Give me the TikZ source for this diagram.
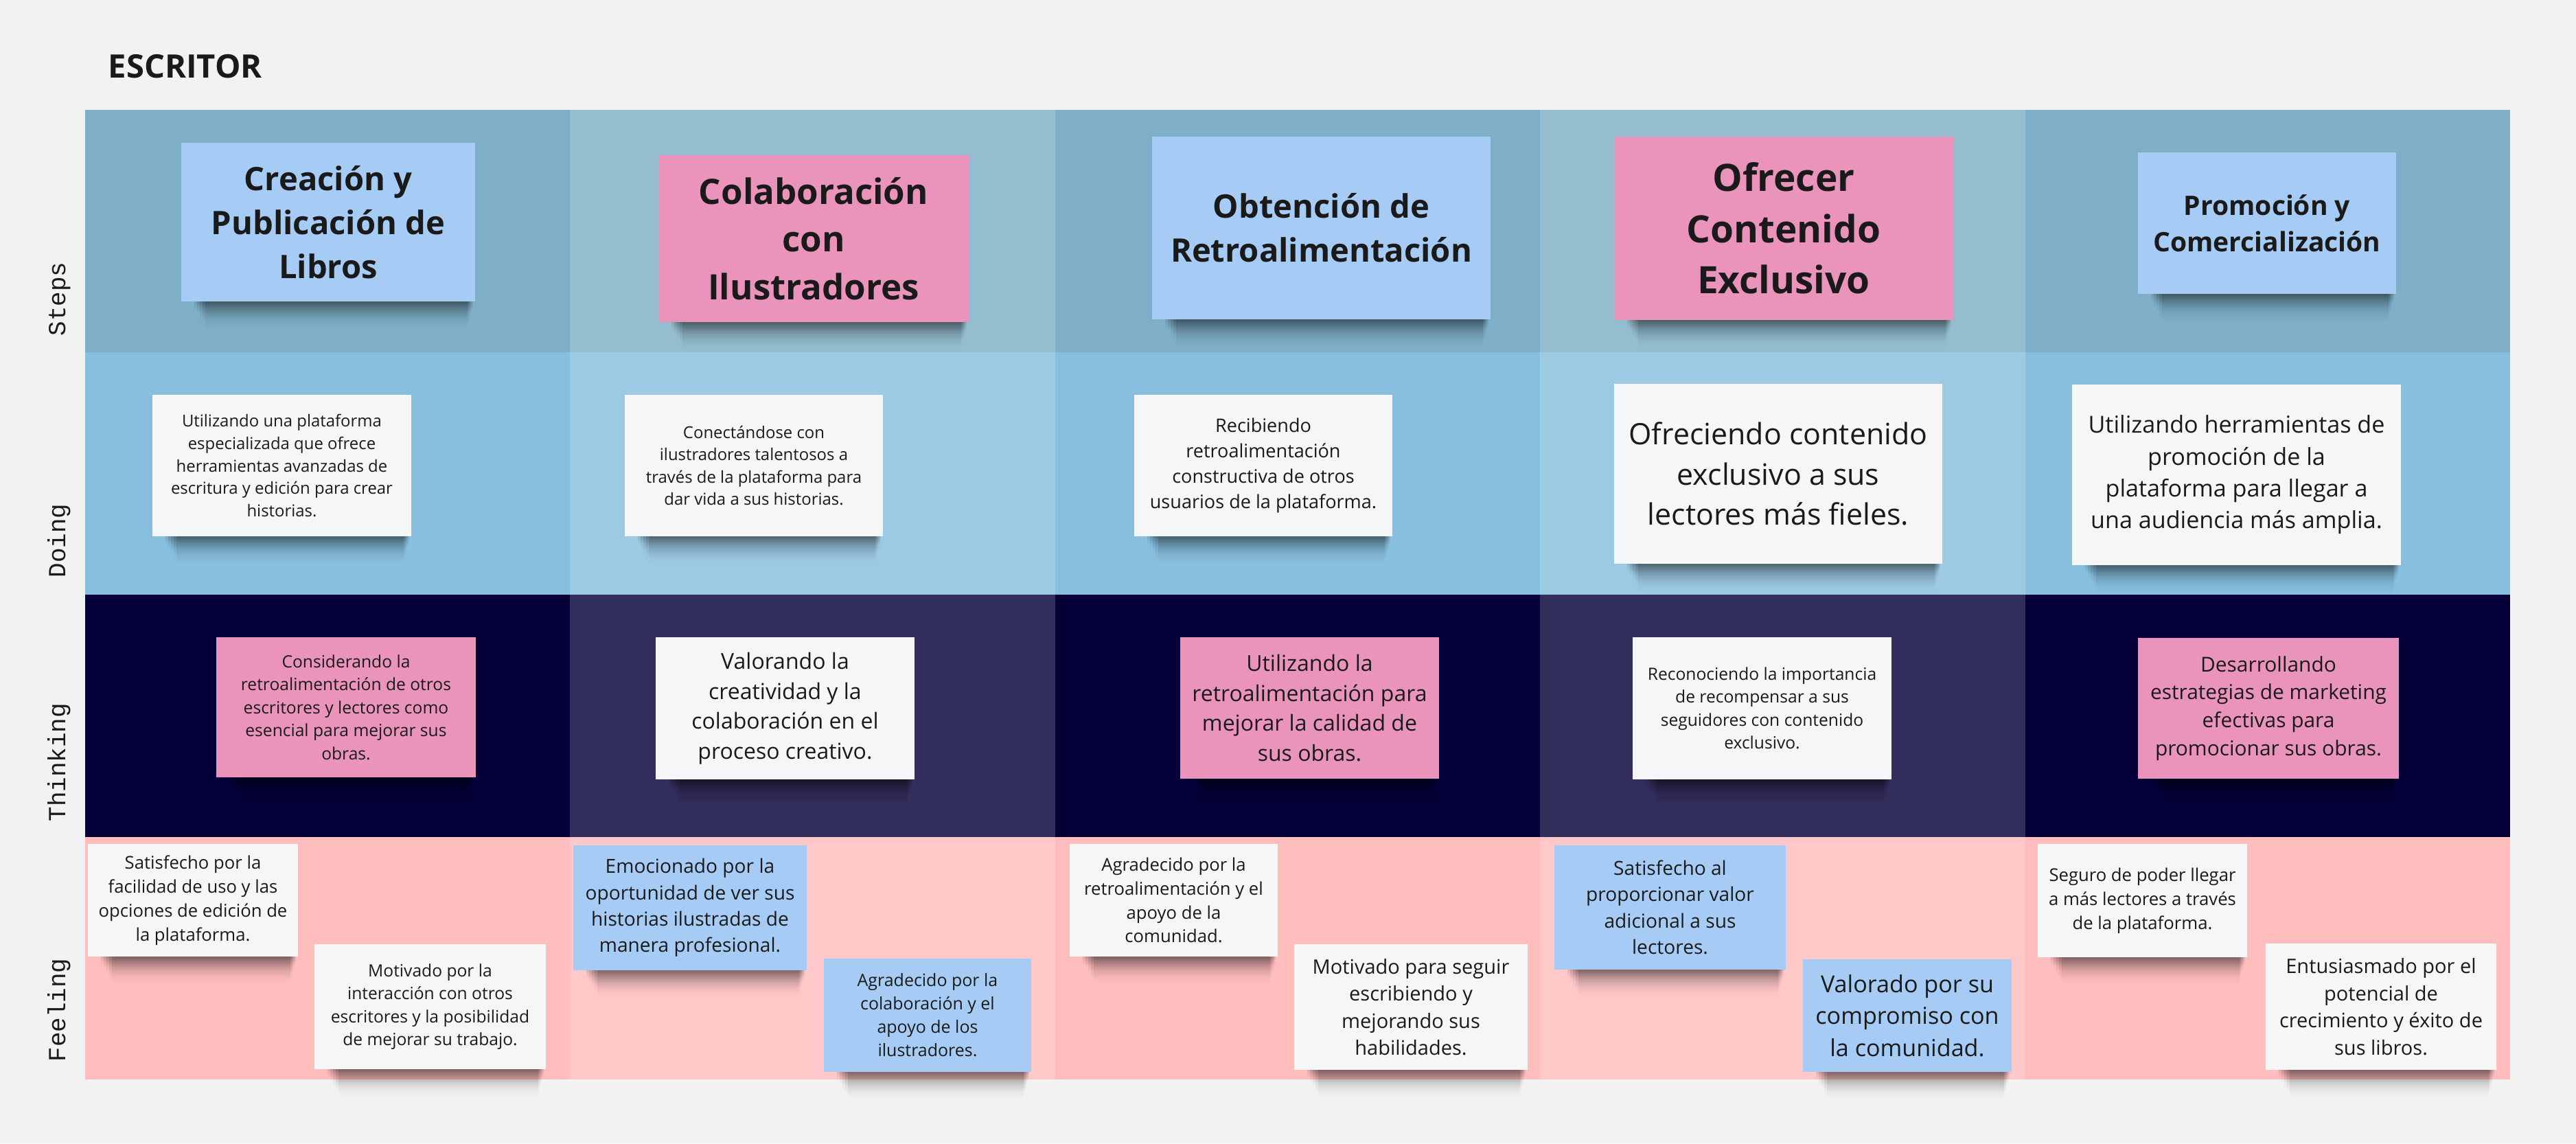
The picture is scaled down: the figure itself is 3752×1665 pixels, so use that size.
\documentclass[tikz,border=0pt]{standalone}
\usepackage{fontspec}
\setmainfont{Open Sans}
\newfontfamily\lanefont{Liberation Mono}
\usetikzlibrary{calc, fadings}
\definecolor{canvas}{HTML}{F2F2F2}
\definecolor{stepsA}{HTML}{7EAFC6}
\definecolor{doingA}{HTML}{88BFDE}
\definecolor{thinkA}{HTML}{050038}
\definecolor{feelA}{HTML}{FFBDBE}
\definecolor{noteblue}{HTML}{A6CCF5}
\definecolor{notepink}{HTML}{EA94BB}
\definecolor{notewhite}{HTML}{F5F6F8}
\definecolor{ink}{HTML}{1A1A1A}
\pgfdeclarelayer{board}
\pgfdeclarelayer{shade}
\pgfsetlayers{board,shade,main}
\tikzset{
  sticky/.style={rectangle, inner sep=0pt, align=center, text=ink},
  bluenote/.style={sticky, fill=noteblue},
  pinknote/.style={sticky, fill=notepink},
  whitenote/.style={sticky, fill=notewhite},
  fs/.style={font=\fontsize{#1}{1.36\dimexpr#1pt\relax}\selectfont},
  fsb/.style={font=\fontsize{#1}{1.36\dimexpr#1pt\relax}\selectfont\bfseries},
  lane/.style={rotate=90, anchor=base west, inner sep=0pt, text=ink,
    font=\lanefont\fontsize{10.2}{12}\selectfont},
  noteshade/.style={fill=black, opacity=0.13, path fading=south}
}

\begin{document}
\begin{tikzpicture}[x=0.01cm, y=-0.01cm]
\useasboundingbox (0,0) rectangle (3752,1665);
\begin{pgfonlayer}{board}
  \fill[canvas] (0,0) rectangle (3752,1665);
  \fill[stepsA] (124,160) rectangle (3656,513);
  \fill[doingA] (124,513) rectangle (3656,866);
  \fill[thinkA] (124,866) rectangle (3656,1219);
  \fill[feelA] (124,1219) rectangle (3656,1572);
  \foreach \c in {1,3}
    \fill[white, opacity=0.18] (124+706.4*\c,160) rectangle (830.4+706.4*\c,1572);
\end{pgfonlayer}

\node[anchor=base west, inner sep=0pt, text=ink, font=\fontsize{13.4}{16}\selectfont\bfseries] (title) at (157,113) {ESCRITOR};
\node[lane] (lsteps) at (95,490) {Steps};
\node[lane] (ldoing) at (95,842) {Doing};
\node[lane] (lthinking) at (95,1197) {Thinking};
\node[lane] (lfeeling) at (95,1547) {Feeling};

% steps
\node[bluenote, fsb=13.4, minimum width=4.28cm, minimum height=2.31cm] (s1) at (478,323.5) {Creación y\\Publicación de\\Libros};
\node[pinknote, fsb=14.5, minimum width=4.52cm, minimum height=2.43cm] (s2) at (1185,347.5) {Colaboración\\con\\Ilustradores};
\node[bluenote, fsb=13.4, minimum width=4.93cm, minimum height=2.66cm] (s3) at (1924.5,332) {Obtención de\\Retroalimentación};
\node[pinknote, fsb=15.6, minimum width=4.94cm, minimum height=2.67cm] (s4) at (2598,332.5) {Ofrecer\\Contenido\\Exclusivo};
\node[bluenote, fsb=11.1, minimum width=3.76cm, minimum height=2.06cm] (s5) at (3302,325) {Promoción y\\Comercialización};

% doing
\node[whitenote, fs=6.8, minimum width=3.77cm, minimum height=2.06cm] (d1) at (410.5,678) {Utilizando una plataforma\\especializada que ofrece\\herramientas avanzadas de\\escritura y edición para crear\\historias.};
\node[whitenote, fs=6.8, minimum width=3.76cm, minimum height=2.06cm] (d2) at (1098,678) {Conectándose con\\ilustradores talentosos a\\través de la plataforma para\\dar vida a sus historias.};
\node[whitenote, fs=7.7, minimum width=3.76cm, minimum height=2.06cm] (d3) at (1840,678) {Recibiendo\\retroalimentación\\constructiva de otros\\usuarios de la plataforma.};
\node[whitenote, fs=12.2, minimum width=4.78cm, minimum height=2.62cm] (d4) at (2590,690) {Ofreciendo contenido\\exclusivo a sus\\lectores más fieles.};
\node[whitenote, fs=9.7, minimum width=4.79cm, minimum height=2.63cm] (d5) at (3257.5,691.5) {Utilizando herramientas de\\promoción de la\\plataforma para llegar a\\una audiencia más amplia.};

% thinking
\node[pinknote, fs=7.0, minimum width=3.78cm, minimum height=2.04cm] (t1) at (504,1030) {Considerando la\\retroalimentación de otros\\escritores y lectores como\\esencial para mejorar sus\\obras.};
\node[whitenote, fs=9.1, minimum width=3.77cm, minimum height=2.07cm] (t2) at (1143.5,1031.5) {Valorando la\\creatividad y la\\colaboración en el\\proceso creativo.};
\node[pinknote, fs=9.1, minimum width=3.77cm, minimum height=2.06cm] (t3) at (1907.5,1031) {Utilizando la\\retroalimentación para\\mejorar la calidad de\\sus obras.};
\node[whitenote, fs=7.0, minimum width=3.77cm, minimum height=2.07cm] (t4) at (2566.5,1031.5) {Reconociendo la importancia\\de recompensar a sus\\seguidores con contenido\\exclusivo.};
\node[pinknote, fs=8.5, minimum width=3.80cm, minimum height=2.05cm] (t5) at (3304,1031.5) {Desarrollando\\estrategias de marketing\\efectivas para\\promocionar sus obras.};

% feeling
\node[whitenote, fs=7.3, minimum width=3.06cm, minimum height=1.64cm] (f1) at (281,1311) {Satisfecho por la\\facilidad de uso y las\\opciones de edición de\\la plataforma.};
\node[whitenote, fs=7.0, minimum width=3.37cm, minimum height=1.82cm] (f2) at (626.5,1466) {Motivado por la\\interacción con otros\\escritores y la posibilidad\\de mejorar su trabajo.};
\node[bluenote, fs=8.0, minimum width=3.40cm, minimum height=1.82cm] (f3) at (1005,1322) {Emocionado por la\\oportunidad de ver sus\\historias ilustradas de\\manera profesional.};
\node[bluenote, fs=7.1, minimum width=3.02cm, minimum height=1.65cm] (f4) at (1351,1478.5) {Agradecido por la\\colaboración y el\\apoyo de los\\ilustradores.};
\node[whitenote, fs=7.3, minimum width=3.03cm, minimum height=1.64cm] (f5) at (1709.5,1311) {Agradecido por la\\retroalimentación y el\\apoyo de la\\comunidad.};
\node[whitenote, fs=8.25, minimum width=3.40cm, minimum height=1.83cm] (f6) at (2055,1466.5) {Motivado para seguir\\escribiendo y\\mejorando sus\\habilidades.};
\node[bluenote, fs=8.0, minimum width=3.37cm, minimum height=1.81cm] (f7) at (2432.5,1321.5) {Satisfecho al\\proporcionar valor\\adicional a sus\\lectores.};
\node[bluenote, fs=9.7, minimum width=3.04cm, minimum height=1.64cm] (f8) at (2778,1479) {Valorado por su\\compromiso con\\la comunidad.};
\node[whitenote, fs=7.3, minimum width=3.05cm, minimum height=1.65cm] (f9) at (3120.5,1311.5) {Seguro de poder llegar\\a más lectores a través\\de la plataforma.};
\node[whitenote, fs=8.25, minimum width=3.36cm, minimum height=1.84cm] (f10) at (3468,1466) {Entusiasmado por el\\potencial de\\crecimiento y éxito de\\sus libros.};

\begin{pgfonlayer}{shade}
  \foreach \n in {s1,s2,s3,s4,s5,d1,d2,d3,d4,d5,t1,t2,t3,t4,t5,f1,f2,f3,f4,f5,f6,f7,f8,f9,f10}
    \foreach \k in {1,...,5}
      \fill[noteshade] ($(\n.south west)+(16+4*\k,-2)$) rectangle ($(\n.south east)+(-2-2*\k,4+7*\k)$);
\end{pgfonlayer}
\end{tikzpicture}
\end{document}
